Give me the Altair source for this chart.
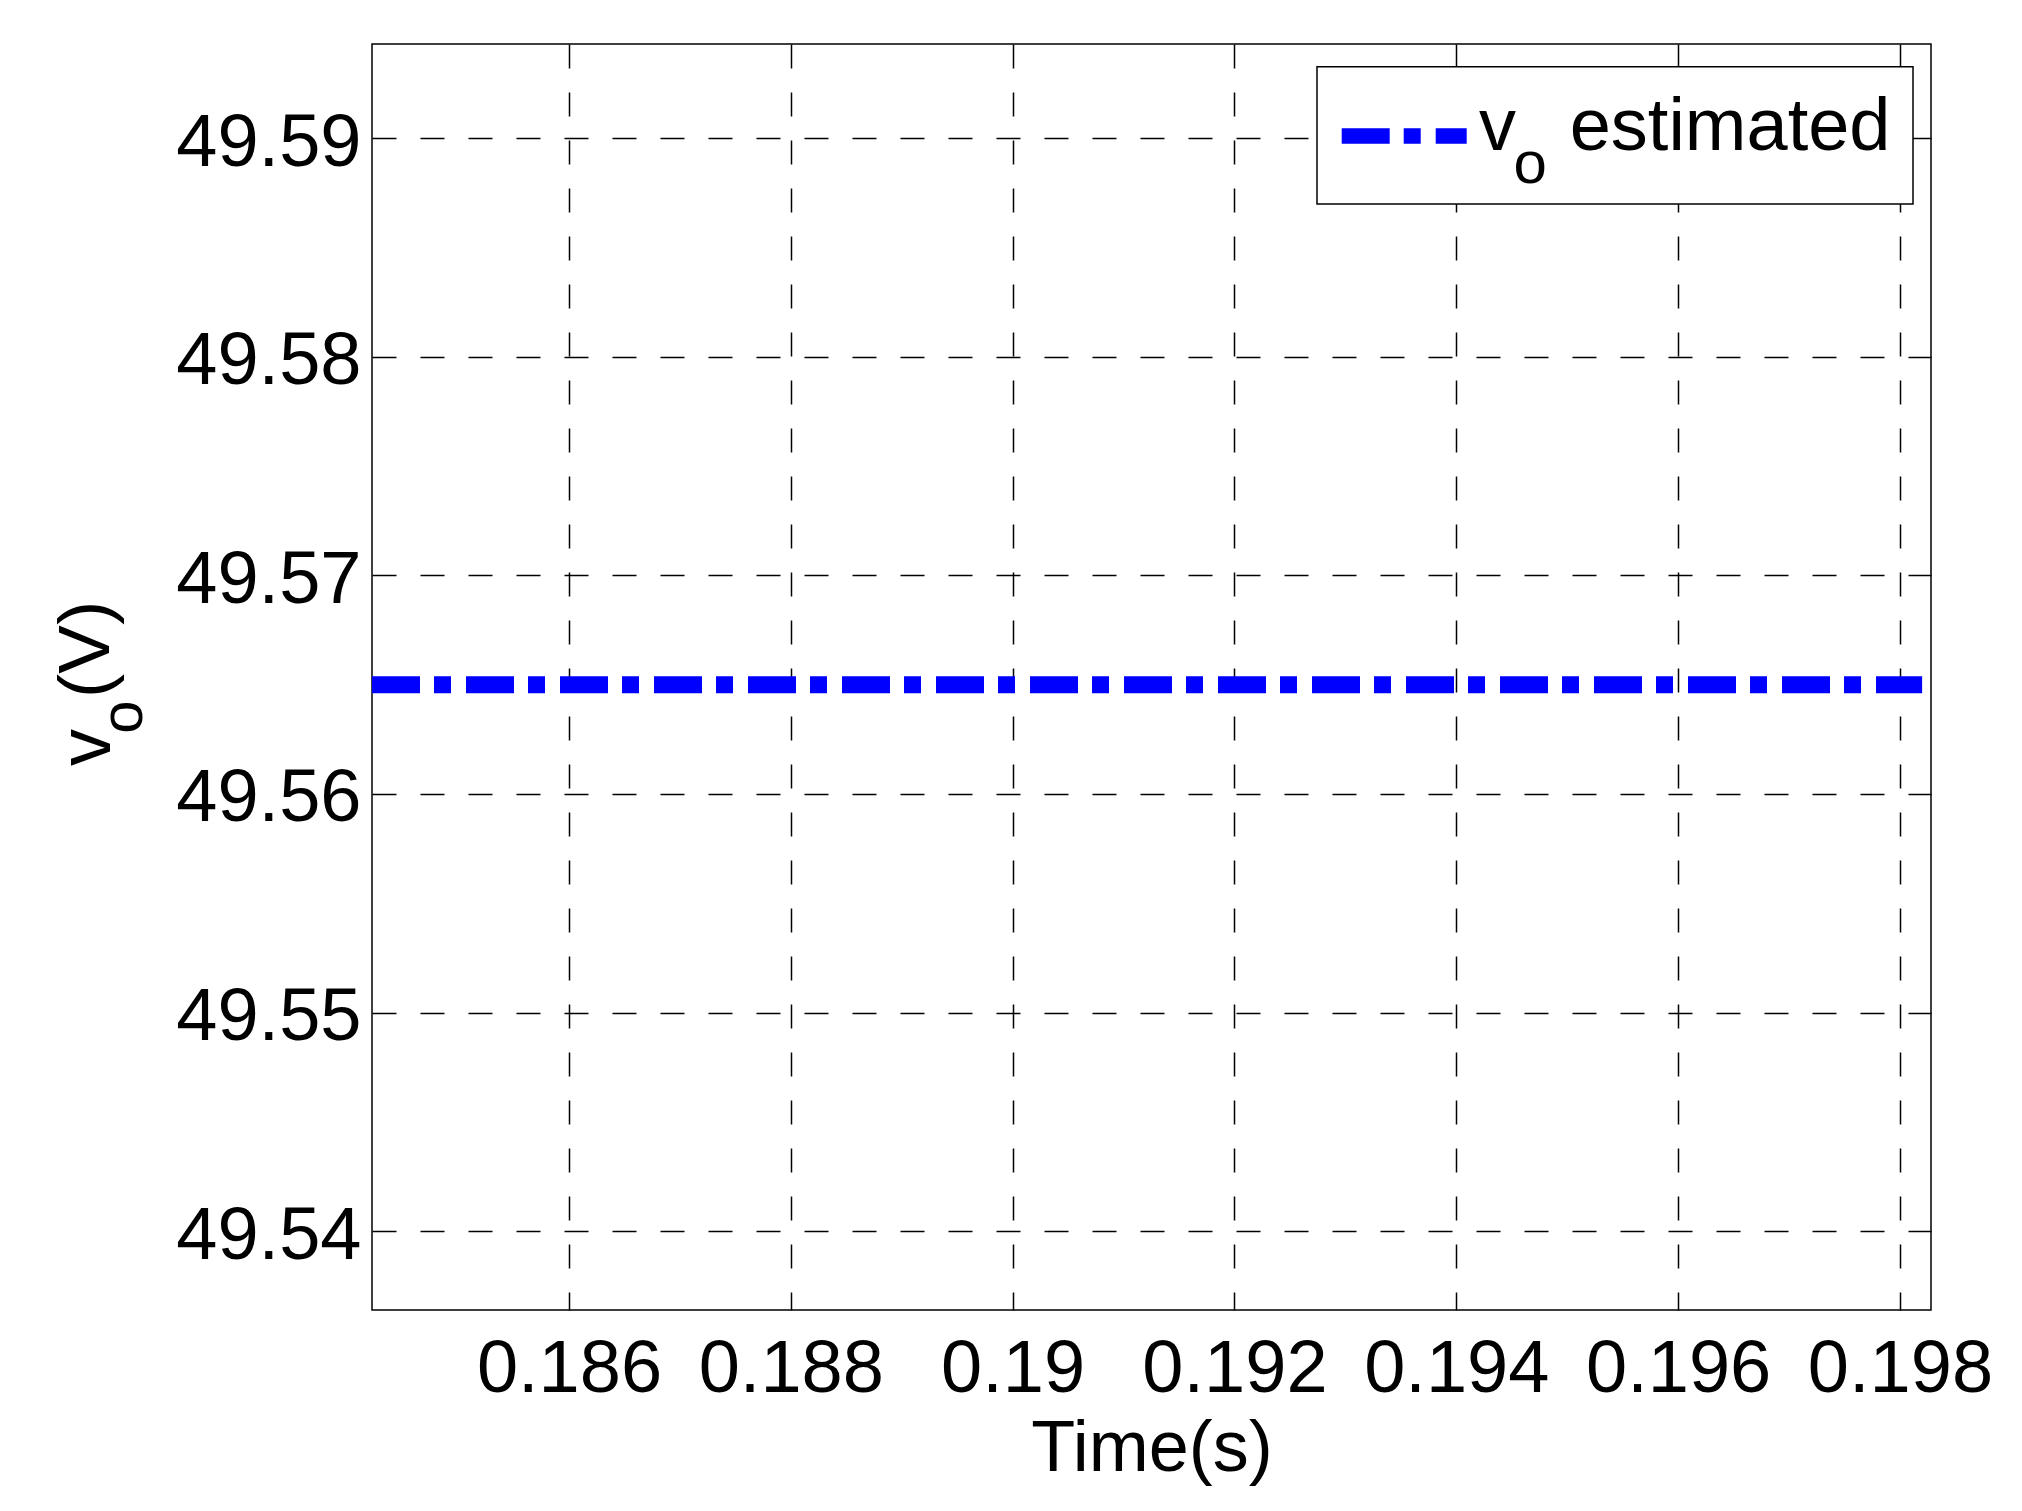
import altair as alt
import pandas as pd

# ---- data ----
time_s = [0.184224, 0.1982]
vo_est = [49.565, 49.565]

x_ticks = [0.186, 0.188, 0.190, 0.192, 0.194, 0.196, 0.198]
y_ticks = [49.54, 49.55, 49.56, 49.57, 49.58, 49.59]
x_domain = [0.184224, 0.19828]
y_domain = [49.5364, 49.5943]

series_name = "estimated"
FONT = "Liberation Sans"
W, H = 1559, 1266

df = pd.DataFrame({"t": time_s, "v": vo_est})

line = alt.Chart(df).mark_line(
    color="#0000ff", strokeWidth=17, strokeDash=[48, 14, 17, 15], strokeCap="butt"
).encode(
    x=alt.X("t:Q", scale=alt.Scale(domain=x_domain, nice=False, zero=False),
            axis=alt.Axis(values=x_ticks, format=".3~f", title="Time(s)",
                          titleBaseline="alphabetic", titleY=160,
                          labelPadding=23, labelFlush=False, labelLimit=0)),
    y=alt.Y("v:Q", scale=alt.Scale(domain=y_domain, nice=False, zero=False),
            axis=alt.Axis(values=y_ticks, format=".2f", title=None,
                          labelPadding=11, labelOffset=5, labelLimit=0)),
)

# legend box
legend_box = alt.Chart(pd.DataFrame({"a": [0]})).mark_rect(
    fill="white", stroke="black", strokeWidth=1.5
).encode(x=alt.value(945), x2=alt.value(1541), y=alt.value(22.7), y2=alt.value(160))

legend_line = alt.Chart(pd.DataFrame({"a": [0]})).mark_rule(
    color="#0000ff", strokeWidth=15.5, strokeDash=[48, 14, 17, 15], strokeCap="butt"
).encode(x=alt.value(969.7), x2=alt.value(1094.7), y=alt.value(92))

def txt(label, x, y, size, angle=0):
    return alt.Chart(pd.DataFrame({"label": [label]})).mark_text(
        font=FONT, fontSize=size, color="black", align="left",
        baseline="alphabetic", angle=angle
    ).encode(text="label:N", x=alt.value(x), y=alt.value(y))

legend_v = txt("v", 1107, 106, 74)
legend_o = txt("o", 1141.6, 138.5, 60)
legend_est = txt(series_name, 1197.7, 106, 74)

ytitle_v = txt("v", -262, 722, 74, 270)
ytitle_o = txt("o", -229.6, 689.7, 60, 270)
ytitle_V = txt("(V)", -263, 654, 73, 270)

chart = alt.layer(
    line, legend_box, legend_line, legend_v, legend_o, legend_est,
    ytitle_v, ytitle_o, ytitle_V
).properties(
    width=W, height=H,
    autosize=alt.AutoSizeParams(type="none"),
    padding={"left": 364, "top": 36, "right": 80, "bottom": 180},
    background="white",
).configure_view(
    stroke="black", strokeWidth=1.5
).configure_axis(
    labelFont=FONT, labelFontSize=74, labelColor="black", labelLimit=0,
    titleFont=FONT, titleFontSize=72, titleFontWeight="normal", titleColor="black",
    grid=True, gridColor="black", gridDash=[24, 24], gridWidth=1.5, gridOpacity=1,
    domain=False, ticks=False, tickSize=0,
)

chart.save("out.html", embed_options={"renderer": "svg", "actions": False})
